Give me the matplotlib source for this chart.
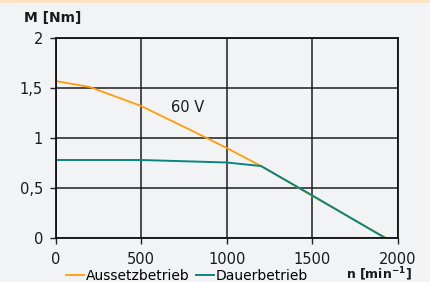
import matplotlib.pyplot as plt
from matplotlib.ticker import FuncFormatter

# data
aussetz_n = [0, 200, 500, 800, 1000, 1200, 1500, 1930]
aussetz_M = [1.57, 1.51, 1.32, 1.07, 0.90, 0.72, 0.42, 0.0]
dauer_n = [0, 500, 1000, 1200, 1500, 1925]
dauer_M = [0.78, 0.78, 0.755, 0.72, 0.425, 0.0]

bg = '#f2f3f5'
orange = '#ff9c0a'
teal = '#0a8580'

fig = plt.figure(figsize=(4.3, 2.82), dpi=100, facecolor=bg)
ax = fig.add_axes([55.5 / 430, 44 / 282, 342.5 / 430, 200 / 282], facecolor=bg)

# orange strip at the top
fig.patches.append(plt.Rectangle((0, 279 / 282), 1, 3 / 282, transform=fig.transFigure,
                                 facecolor='#fde3c6', edgecolor='none'))

ax.plot(aussetz_n, aussetz_M, color=orange, lw=1.3, label='Aussetzbetrieb')
ax.plot(dauer_n, dauer_M, color=teal, lw=1.4, label='Dauerbetrieb')

ax.set_xlim(0, 2000)
ax.set_ylim(0, 2)
ax.set_xticks([0, 500, 1000, 1500, 2000])
ax.set_yticks([0, 0.5, 1, 1.5, 2])
ax.yaxis.set_major_formatter(FuncFormatter(lambda v, p: ('%g' % v).replace('.', ',')))
ax.grid(True, color='#1e1e1e', lw=1.1)
ax.set_axisbelow(True)
for s in ax.spines.values():
    s.set_color('#111111')
    s.set_linewidth(1.3)
ax.tick_params(labelsize=10.5, length=4, width=1, color='#222222', labelcolor='#1a1a1a')
ax.tick_params(axis='x', pad=6)
ax.tick_params(axis='y', pad=5)

ax.text(673, 1.30, '60 V', fontsize=10.5, color='#1a1a1a', va='center')
fig.text(24 / 430, 1 - 18 / 282, 'M [Nm]', fontsize=10, fontweight='bold', color='#1a1a1a', va='center')
fig.text(412 / 430, 1 - 274.5 / 282, 'n [min$^{\\mathbf{-1}}$]', fontsize=9, fontweight='bold',
         color='#1a1a1a', va='center', ha='right')

fig.legend(loc='center left', bbox_to_anchor=(66 / 430, 1 - 276 / 282), ncol=2, frameon=False,
           fontsize=10, handlelength=1.3, handletextpad=0.1, columnspacing=0.5,
           borderpad=0, borderaxespad=0)

fig.savefig('out.png', dpi=100, facecolor=bg)
